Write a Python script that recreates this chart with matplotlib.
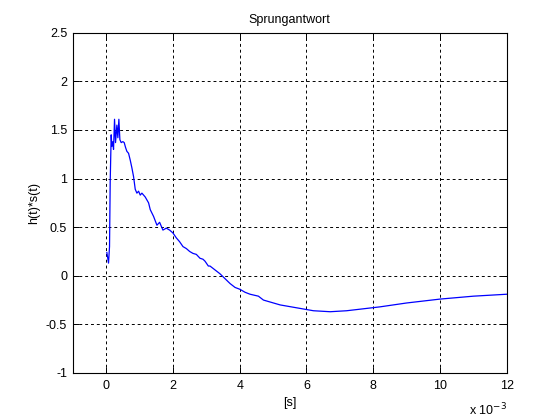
"""
Sprungantwort (step response) h(t)*s(t), MATLAB-style plot
"""

### Import modules
import numpy as np
import matplotlib
matplotlib.use('Agg')
import matplotlib.pyplot as plt

### Data (time in ms, i.e. x 10^-3 s)
t_ms = [0.02, 0.07, 0.10, 0.12, 0.15, 0.17, 0.20, 0.22, 0.25, 0.28,
        0.32, 0.35, 0.38, 0.41, 0.45, 0.50, 0.54, 0.58, 0.62, 0.67,
        0.72, 0.77, 0.82, 0.87, 0.92, 0.97, 1.02, 1.07, 1.17, 1.27,
        1.32, 1.42, 1.52, 1.60, 1.70, 1.80, 1.90, 2.00, 2.10, 2.20,
        2.30, 2.40, 2.50, 2.60, 2.70, 2.81, 2.90, 2.96, 3.06, 3.11,
        3.26, 3.41, 3.56, 3.71, 3.86, 4.01, 4.16, 4.31, 4.56, 4.71,
        5.21, 5.71, 6.21, 6.71, 7.20, 7.70, 8.20, 9.00, 10.0, 11.0,
        12.0]
h_s = [0.24, 0.13, 0.30, 0.96, 1.45, 1.33, 1.38, 1.30, 1.61, 1.37,
       1.55, 1.42, 1.61, 1.40, 1.37, 1.38, 1.37, 1.32, 1.28, 1.26,
       1.19, 1.11, 1.02, 0.89, 0.85, 0.87, 0.83, 0.85, 0.81, 0.75,
       0.68, 0.61, 0.52, 0.55, 0.47, 0.49, 0.47, 0.44, 0.39, 0.35,
       0.30, 0.28, 0.25, 0.23, 0.22, 0.18, 0.17, 0.15, 0.10, 0.10,
       0.06, 0.02, -0.03, -0.08, -0.12, -0.14, -0.17, -0.19, -0.21, -0.25,
       -0.30, -0.33, -0.36, -0.37, -0.36, -0.34, -0.32, -0.28, -0.24, -0.21,
       -0.19]

xticks = np.arange(0, 13, 2)
yticks = np.arange(-1, 2.6, 0.5)
ytick_labels = ['-1', '-0.5', '0', '0.5', '1', '1.5', '2', '2.5']

###############################################################################
#### Plot Figure
plt.rc('font', family=['Liberation Sans', 'DejaVu Sans'], size=9)

fig = plt.figure(figsize=(5.6, 4.2), dpi=100)
ax = fig.add_axes([0.13, 0.112, 0.775, 0.81])

ax.plot(t_ms, h_s, color='#0000ff', linewidth=0.9)

ax.set_xlim([-1, 12])
ax.set_ylim([-1, 2.5])
ax.set_xticks(xticks)
ax.set_xticklabels([str(x) for x in xticks])
ax.set_yticks(yticks)
ax.set_yticklabels(ytick_labels)

ax.grid(True, color='k', linestyle=(0, (3, 3)), linewidth=0.7)
ax.tick_params(direction='in', length=4, width=0.7, top=True, right=True,
               labelsize=9, pad=4)
ax.tick_params(axis='x', pad=5)
for sp in ax.spines.values():
    sp.set_linewidth(0.8)

ax.set_title('Sprungantwort', fontsize=9, pad=7)
ax.set_xlabel('[s]', fontsize=9, labelpad=4)
ax.set_ylabel('h(t)*s(t)', fontsize=9, labelpad=4)

### Exponent label like MATLAB
ax.text(1.0, -0.085, r'x 10$^{-3}$', transform=ax.transAxes, ha='right',
        va='top', fontsize=9)

### Save figure
plt.savefig('out.png', dpi=100)
